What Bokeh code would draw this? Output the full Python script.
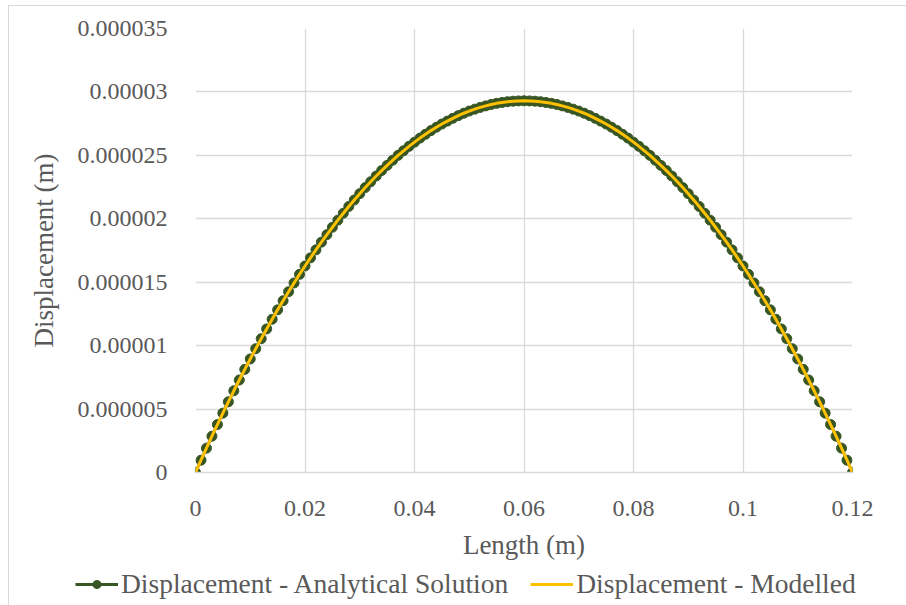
from bokeh.plotting import figure
from bokeh.layouts import column
from bokeh.models import ColumnDataSource, FixedTicker, Legend, LegendItem
from bokeh.embed import file_html
from bokeh.resources import INLINE

# Length positions in mm (0..120, every 1 mm)
length_mm = list(range(0, 121))

# Displacement in micrometres
analytical_um = [
    0.00, 0.97, 1.92, 2.86, 3.78, 4.68, 5.57, 6.44, 7.29, 8.13,
    8.95, 9.76, 10.55, 11.32, 12.08, 12.82, 13.54, 14.25, 14.94, 15.62,
    16.28, 16.92, 17.55, 18.16, 18.75, 19.33, 19.89, 20.44, 20.97, 21.48,
    21.98, 22.46, 22.92, 23.37, 23.80, 24.21, 24.61, 25.00, 25.36, 25.71,
    26.04, 26.36, 26.66, 26.95, 27.22, 27.47, 27.70, 27.92, 28.13, 28.32,
    28.49, 28.64, 28.78, 28.90, 29.01, 29.10, 29.17, 29.23, 29.27, 29.29,
    29.30,
    29.29, 29.27, 29.23, 29.17, 29.10, 29.01, 28.90, 28.78, 28.64, 28.49,
    28.32, 28.13, 27.92, 27.70, 27.47, 27.22, 26.95, 26.66, 26.36, 26.04,
    25.71, 25.36, 25.00, 24.61, 24.21, 23.80, 23.37, 22.92, 22.46, 21.98,
    21.48, 20.97, 20.44, 19.89, 19.33, 18.75, 18.16, 17.55, 16.92, 16.28,
    15.62, 14.94, 14.25, 13.54, 12.82, 12.08, 11.32, 10.55, 9.76, 8.95,
    8.13, 7.29, 6.44, 5.57, 4.68, 3.78, 2.86, 1.92, 0.97, 0.00,
]
modelled_um = list(analytical_um)

x_ticks = [0, 0.02, 0.04, 0.06, 0.08, 0.1, 0.12]
x_tick_labels = ["0", "0.02", "0.04", "0.06", "0.08", "0.1", "0.12"]
y_ticks = [0, 0.000005, 0.00001, 0.000015, 0.00002, 0.000025, 0.00003, 0.000035]
y_tick_labels = ["0", "0.000005", "0.00001", "0.000015", "0.00002",
                 "0.000025", "0.00003", "0.000035"]

x_m = [v / 1000 for v in length_mm]
src_a = ColumnDataSource(dict(x=x_m, y=[v * 1e-6 for v in analytical_um]))
src_m = ColumnDataSource(dict(x=x_m, y=[v * 1e-6 for v in modelled_um]))

FONT = "Liberation Serif"
TXT = "#595959"
GRID = "#d9d9d9"
GREEN = "#375623"
GOLD = "#FFC000"

p = figure(width=897, height=560, output_backend="svg", toolbar_location=None,
           x_range=(0, 0.12), y_range=(0, 0.000035),
           min_border_left=186, min_border_right=54,
           min_border_top=22, min_border_bottom=94)
p.outline_line_color = None
p.background_fill_color = "white"
p.border_fill_color = "white"

p.xaxis.ticker = FixedTicker(ticks=x_ticks)
p.yaxis.ticker = FixedTicker(ticks=y_ticks)
p.xaxis.major_label_overrides = {t: l for t, l in zip(x_ticks, x_tick_labels)}
p.yaxis.major_label_overrides = {t: l for t, l in zip(y_ticks, y_tick_labels)}

for ax in (p.xaxis, p.yaxis):
    ax.major_tick_line_color = None
    ax.minor_tick_line_color = None
    ax.major_label_text_font = FONT
    ax.major_label_text_font_size = "24px"
    ax.major_label_text_color = TXT
    ax.axis_label_text_font = FONT
    ax.axis_label_text_font_size = "27px"
    ax.axis_label_text_color = TXT
    ax.axis_label_text_font_style = "normal"

p.xaxis.axis_line_color = GRID
p.xaxis.axis_line_width = 1.3
p.yaxis.axis_line_color = None
p.xaxis.major_label_standoff = 22
p.yaxis.major_label_standoff = 22
p.xaxis.axis_label = "Length (m)"
p.yaxis.axis_label = "Displacement (m)"
p.xaxis.axis_label_standoff = 11
p.yaxis.axis_label_standoff = 16

p.xgrid.ticker = FixedTicker(ticks=x_ticks)
p.ygrid.ticker = FixedTicker(ticks=y_ticks)
p.xgrid.grid_line_color = GRID
p.ygrid.grid_line_color = GRID
p.xgrid.grid_line_width = 1.3
p.ygrid.grid_line_width = 1.3

p.line("x", "y", source=src_a, line_color=GREEN, line_width=3)
p.scatter("x", "y", source=src_a, marker="circle", size=10,
          fill_color=GREEN, line_color=GREEN)
p.line("x", "y", source=src_m, line_color=GOLD, line_width=3)

# Legend strip below the chart (its renderers use the same data, kept out of view)
p2 = figure(width=897, height=39, output_backend="svg", toolbar_location=None,
            x_axis_type=None, y_axis_type=None, x_range=(0, 1), y_range=(1, 2),
            min_border=0)
try:
    p2.frame_align = False
except Exception:
    pass
p2.outline_line_color = None
p2.xgrid.visible = False
p2.ygrid.visible = False
la = p2.line("x", "y", source=src_a, line_color=GREEN, line_width=3)
sa = p2.scatter("x", "y", source=src_a, marker="circle", size=9,
                fill_color=GREEN, line_color=GREEN)
lm = p2.line("x", "y", source=src_m, line_color=GOLD, line_width=3)
legend = Legend(items=[
    LegendItem(label="Displacement - Analytical Solution", renderers=[la, sa]),
    LegendItem(label="Displacement - Modelled", renderers=[lm]),
], orientation="horizontal", location=(66, 5),
    label_text_font=FONT, label_text_font_size="27.5px", label_text_color=TXT,
    glyph_width=43, glyph_height=20, label_standoff=3, spacing=22,
    padding=0, margin=0, border_line_color=None, background_fill_alpha=0)
p2.add_layout(legend, "center")

layout = column(p, p2, spacing=0, margin=(5, 0, 0, 8),
                styles={"border-top": "1px solid #d9d9d9",
                        "border-left": "1px solid #d9d9d9"})

open("out.html", "w").write(file_html(layout, INLINE))
